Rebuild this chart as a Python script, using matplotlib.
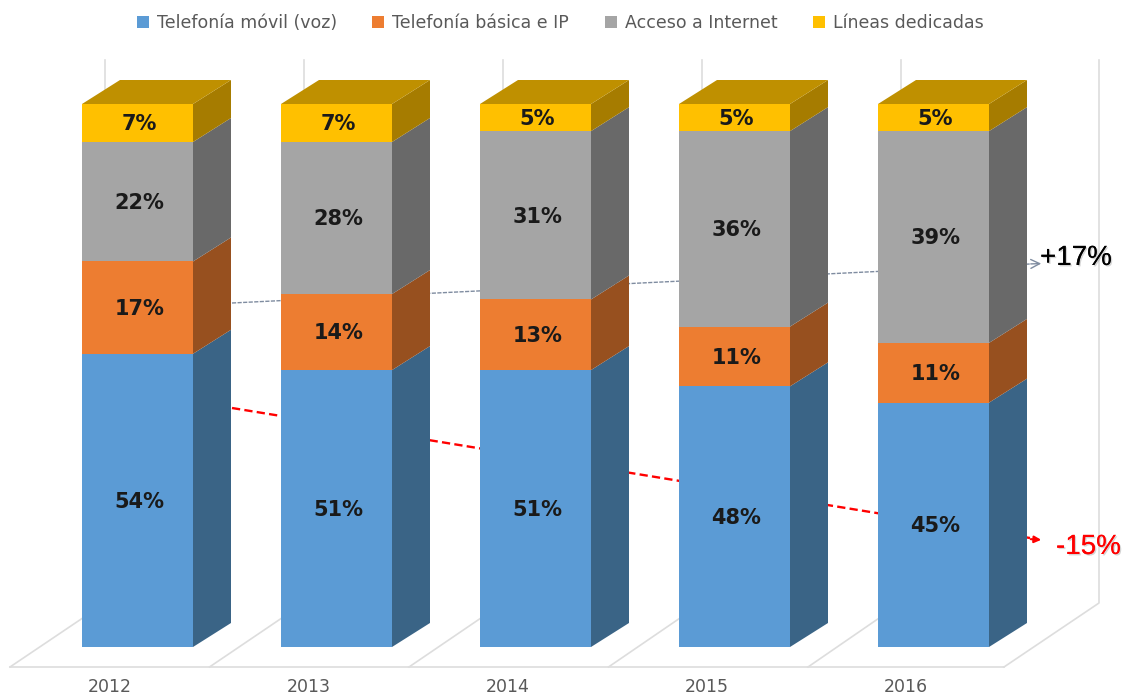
import numpy as np
import matplotlib
matplotlib.use('Agg')
import matplotlib.pyplot as plt
import matplotlib.patheffects as pe
from matplotlib.patches import Patch, Polygon

plt.rcParams['font.family'] = ['DejaVu Sans']

years = ['2012', '2013', '2014', '2015', '2016']
movil = [54, 51, 51, 48, 45]
basica = [17, 14, 13, 11, 11]
internet = [22, 28, 31, 36, 39]
dedicadas = [7, 7, 5, 5, 5]

names = ['Telefonía móvil (voz)', 'Telefonía básica e IP', 'Acceso a Internet', 'Líneas dedicadas']
front_colors = ['#5B9BD5', '#ED7D31', '#A5A5A5', '#FFC000']
side_colors = ['#3A6486', '#97501F', '#696969', '#A67C00']
top_color = '#BF9000'

W, H = 1123, 694
fig = plt.figure(figsize=(W / 100, H / 100), dpi=100, facecolor='white')

# background axes in pixels: walls, floor, trend lines, notes
bg = fig.add_axes([0, 0, 1, 1])
bg.set_xlim(0, W)
bg.set_ylim(H, 0)
bg.axis('off')

grid = '#DDDDDD'
bg.plot([10, 1004], [667, 667], color=grid, lw=1.2)
for k in range(5):
    bg.plot([10 + 199.5 * k, 105 + 199 * k], [667, 603], color=grid, lw=1.2)
    bg.plot([105 + 199 * k, 105 + 199 * k], [60, 603], color=grid, lw=1.2)
bg.plot([1004, 1099, 1099], [667, 603, 60], color=grid, lw=1.2)

bg.plot([232, 1030], [303, 264], color='#7F8CA0', lw=1, ls=(0, (3, 1)))
bg.annotate('', xy=(1044, 263.5), xytext=(1028, 264),
            arrowprops=dict(arrowstyle='->', color='#7F8CA0', lw=1, mutation_scale=16))
bg.plot([232, 1030], [408, 538], color='#FF0000', lw=1.7, ls=(0, (3.5, 1.8)))
bg.annotate('', xy=(1044, 540), xytext=(1028, 539),
            arrowprops=dict(arrowstyle='-|>', color='#FF0000', lw=1.5, mutation_scale=10))

shadow = [pe.withSimplePatchShadow(offset=(1, -1), shadow_rgbFace='#888888', alpha=0.35), pe.Normal()]
bg.text(1040, 258, '+17%', fontsize=20, color='black', family='Liberation Sans',
        va='center', ha='left', path_effects=shadow)
bg.text(1056, 547, '-15%', fontsize=20, color='#FF0000', family='Liberation Sans',
        va='center', ha='left', path_effects=shadow)

# bars axes: one unit on x is one category, one unit on y is 1 %
unit_x, unit_y = 199.0, 5.43
ax = fig.add_axes([0, 0, 1, 1])
ax.patch.set_alpha(0)
ax.set_xlim(-137.5 / unit_x, (W - 137.5) / unit_x)
ax.set_ylim(-(H - 647) / unit_y, 647 / unit_y)
ax.axis('off')

x = np.arange(len(years))
bar_w = 111 / unit_x
depth_x = 38 / unit_x
depth_y = 24 / unit_y

series = [movil, basica, internet, dedicadas]
bottom = np.zeros(len(years))
for vals, front, side in zip(series, front_colors, side_colors):
    vals = np.array(vals)
    ax.bar(x, vals, width=bar_w, bottom=bottom, color=front, edgecolor='none', zorder=3)
    for xi, b, v in zip(x, bottom, vals):
        r = xi + bar_w / 2
        ax.add_patch(Polygon([(r, b), (r + depth_x, b + depth_y), (r + depth_x, b + v + depth_y), (r, b + v)],
                             facecolor=side, edgecolor='none', zorder=2))
        ax.text(xi + 0.01, b + v / 2 - 0.25, f'{v}%', ha='center', va='center', fontsize=15,
                fontweight='bold', color='#1A1A1A', zorder=5)
    bottom = bottom + vals

for xi, b in zip(x, bottom):
    l, r = xi - bar_w / 2, xi + bar_w / 2
    ax.add_patch(Polygon([(l, b), (r, b), (r + depth_x, b + depth_y), (l + depth_x, b + depth_y)],
                         facecolor=top_color, edgecolor='none', zorder=2))
    ax.text(xi - 0.14, -40 / unit_y, years[xi], ha='center', va='center', fontsize=12.5, color='#595959')

handles = [Patch(facecolor=c, edgecolor='none') for c in front_colors]
ax.legend(handles, names, ncol=4, loc='upper center', bbox_to_anchor=(560 / W, 1 - 13 / H),
          frameon=False, fontsize=12.5, labelcolor='#595959', handlelength=0.7, handleheight=0.7,
          handletextpad=0.45, columnspacing=2.05, borderpad=0, borderaxespad=0.07)

fig.savefig('out.png', dpi=100)
